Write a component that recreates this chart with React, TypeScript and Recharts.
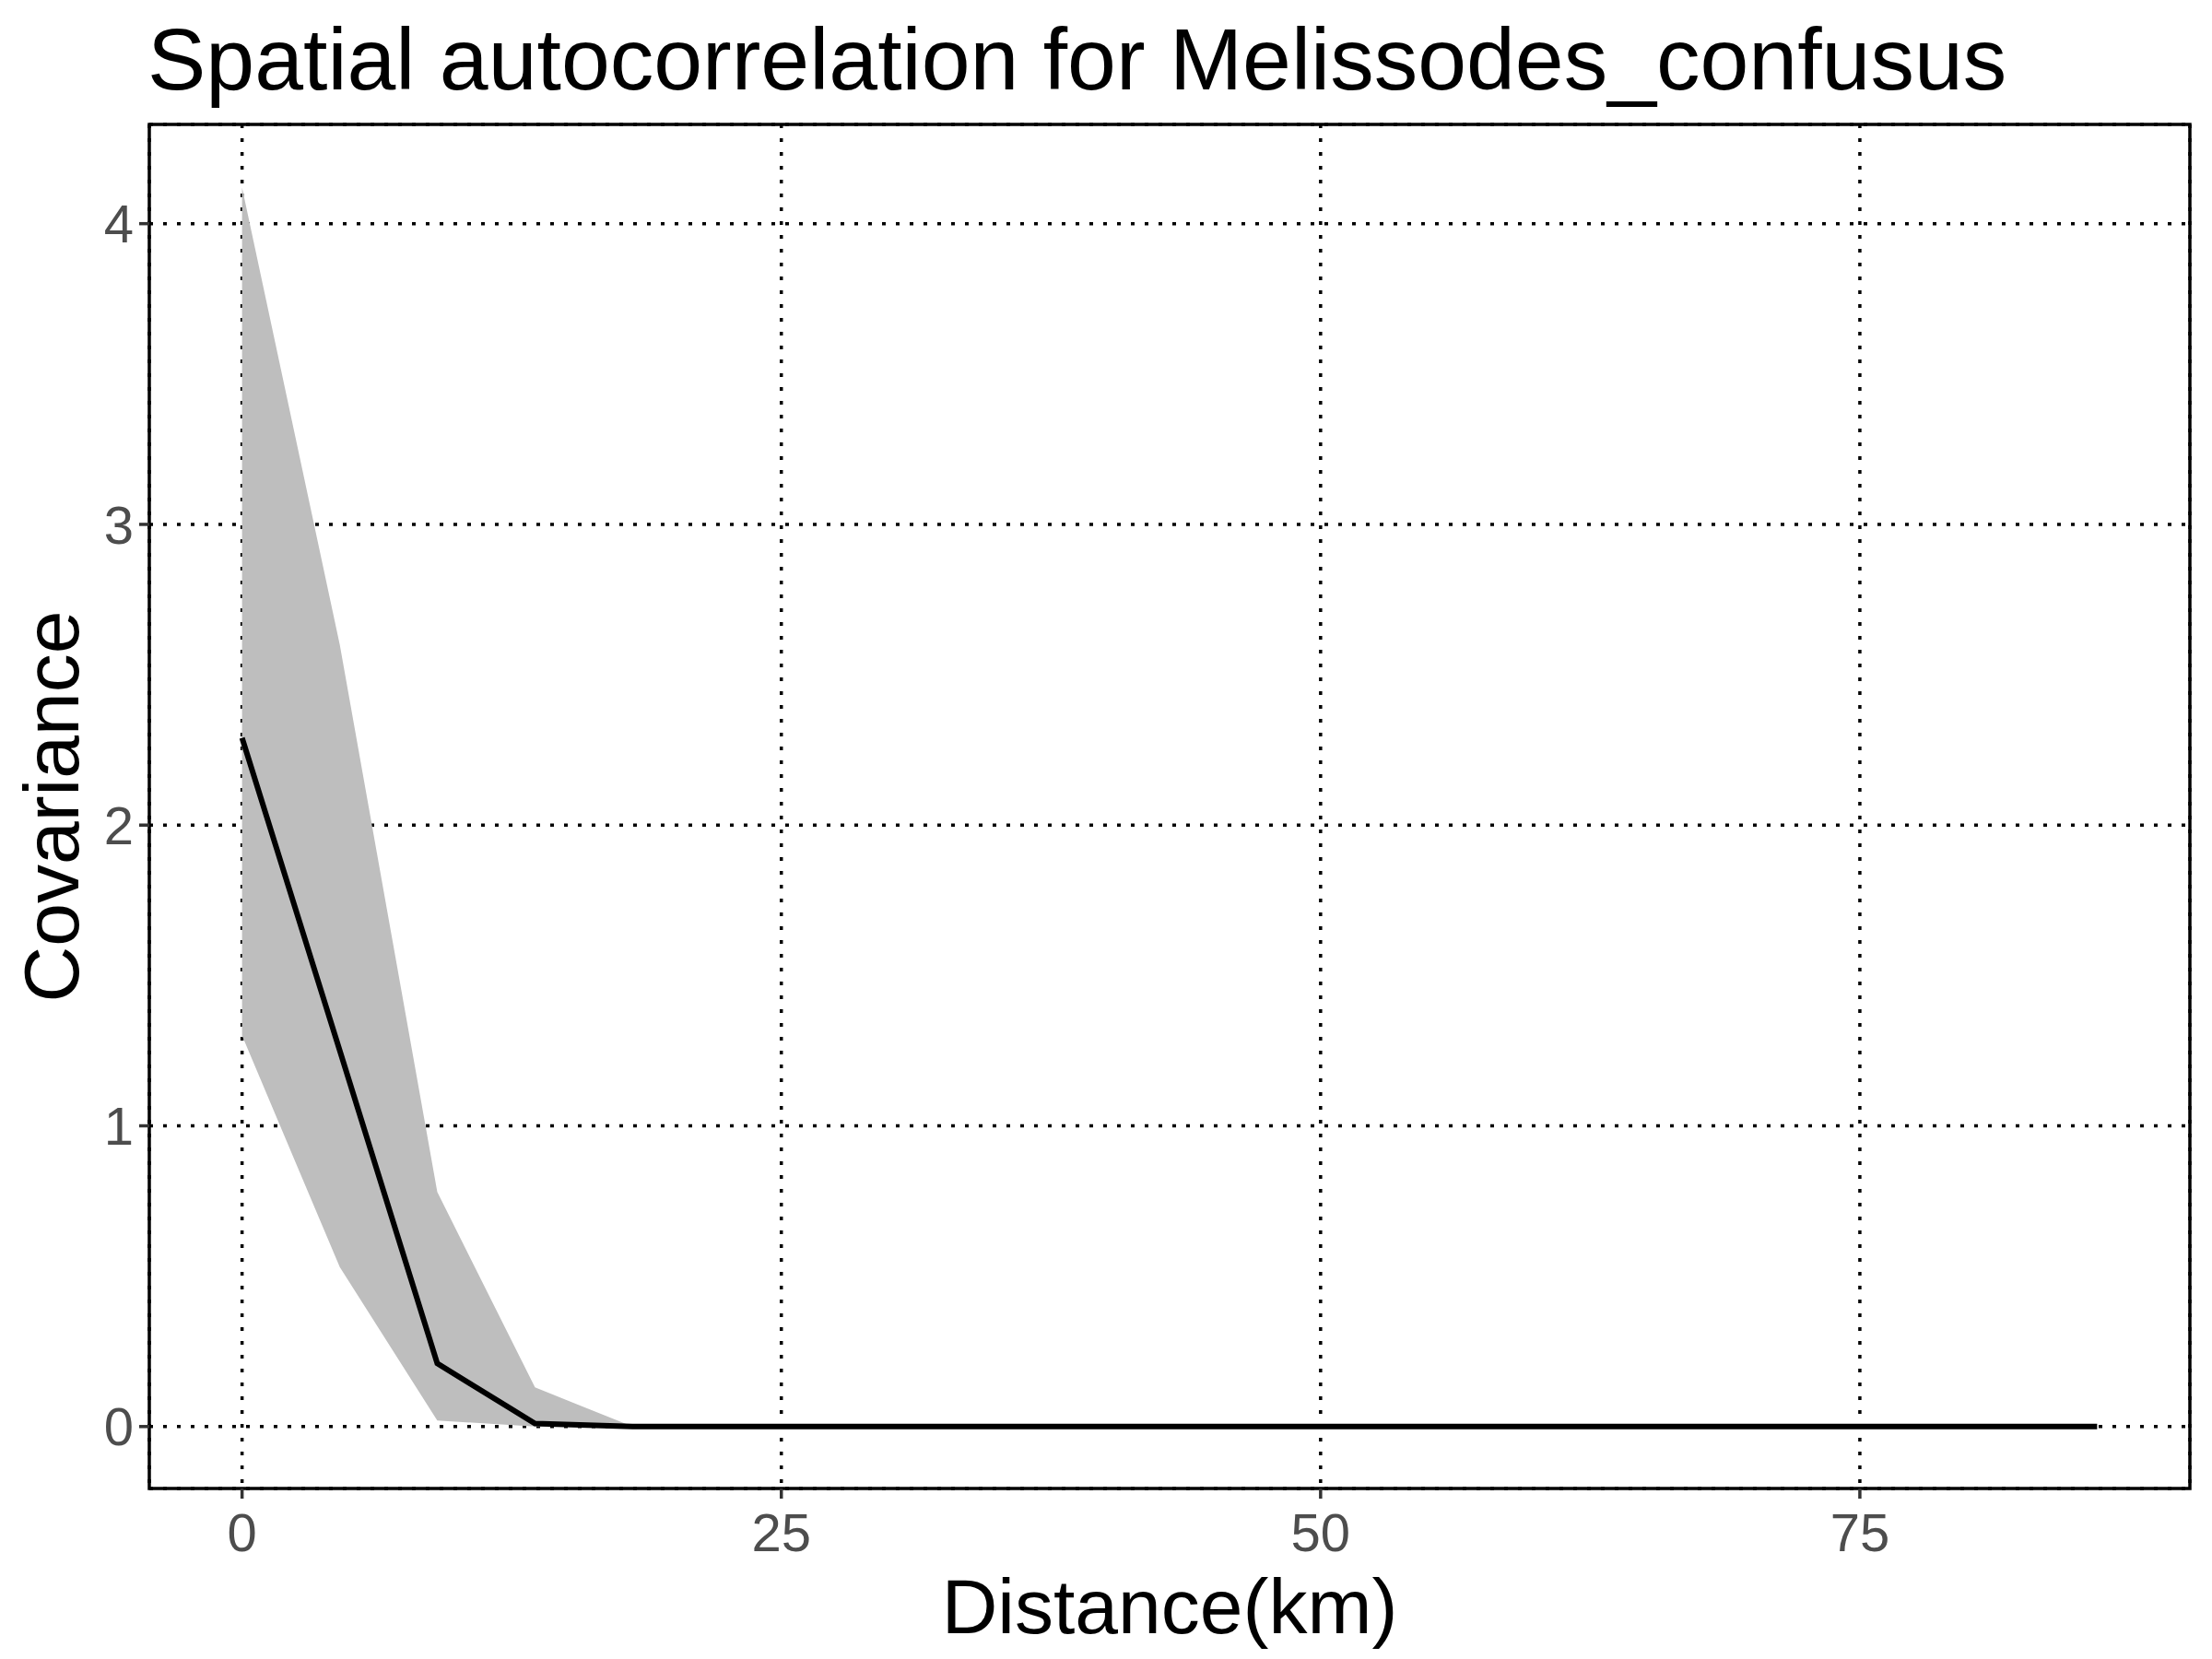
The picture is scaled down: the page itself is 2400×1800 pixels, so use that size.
import React from "react";
import { ComposedChart, Area, Line, XAxis, YAxis, CartesianGrid, ReferenceArea } from "recharts";

const distances = [0, 4.53, 9.05, 13.58, 18.1, 22.63, 27.16, 31.68, 36.21, 40.74, 45.26, 49.79, 54.32, 58.84, 63.37, 67.89, 72.42, 76.95, 81.47, 86];
const covariance = [2.29, 1.25, 0.21, 0.01, 0, 0, 0, 0, 0, 0, 0, 0, 0, 0, 0, 0, 0, 0, 0, 0];
const upper = [4.12, 2.6, 0.78, 0.13, 0.0, 0, 0, 0, 0, 0, 0, 0, 0, 0, 0, 0, 0, 0, 0, 0];
const lower = [1.3, 0.53, 0.02, 0.0, 0, 0, 0, 0, 0, 0, 0, 0, 0, 0, 0, 0, 0, 0, 0, 0];
const xTicks = [0, 25, 50, 75];
const yTicks = [0, 1, 2, 3, 4];

const data = distances.map((d, i) => ({ d, cov: covariance[i], band: [lower[i], upper[i]] }));

const XD: [number, number] = [-4.3, 90.3];
const YD: [number, number] = [-0.206, 4.33];

export default function App() {
  return (
    <div style={{ position: "absolute", left: 0, top: 0, width: 2400, height: 1800, background: "#fff", fontFamily: "Arial, 'Liberation Sans', sans-serif" }}>
      <div style={{ position: "absolute", left: 160, top: 4, fontSize: 95, color: "#000", whiteSpace: "nowrap", lineHeight: "120px" }}>
        Spatial autocorrelation for Melissodes_confusus
      </div>
      <div style={{ position: "absolute", left: 1269, top: 1693, transform: "translateX(-50%)", fontSize: 84, color: "#000", whiteSpace: "nowrap", lineHeight: "100px" }}>
        Distance(km)
      </div>
      <div style={{ position: "absolute", left: 56, top: 875, transform: "translate(-50%,-50%) rotate(-90deg)", fontSize: 84, color: "#000", whiteSpace: "nowrap", lineHeight: "100px" }}>
        Covariance
      </div>
      <ComposedChart width={2400} height={1800} data={data} margin={{ top: 135, left: 0, right: 24, bottom: 0 }}>
        <CartesianGrid stroke="#000" strokeWidth={3.5} strokeDasharray="4 11" />
        <XAxis dataKey="d" type="number" domain={XD} ticks={xTicks} allowDataOverflow axisLine={false}
          tickLine={{ stroke: "#333", strokeWidth: 3.5 }} tickSize={11}
          tick={{ fill: "#4d4d4d", fontSize: 58, dy: 14 }} height={185} />
        <YAxis type="number" domain={YD} ticks={yTicks} allowDataOverflow axisLine={false}
          tickLine={{ stroke: "#333", strokeWidth: 3.5 }} tickSize={11}
          tick={{ fill: "#4d4d4d", fontSize: 58, dx: -4 }} width={162} />
        <Area dataKey="band" stroke="none" fill="#bebebe" fillOpacity={1} isAnimationActive={false} />
        <Line dataKey="cov" stroke="#000" strokeWidth={6} dot={false} isAnimationActive={false} />
        <ReferenceArea x1={XD[0]} x2={XD[1]} y1={YD[0]} y2={YD[1]} fill="none" stroke="#000" strokeWidth={3.5} ifOverflow="visible" />
      </ComposedChart>
    </div>
  );
}
